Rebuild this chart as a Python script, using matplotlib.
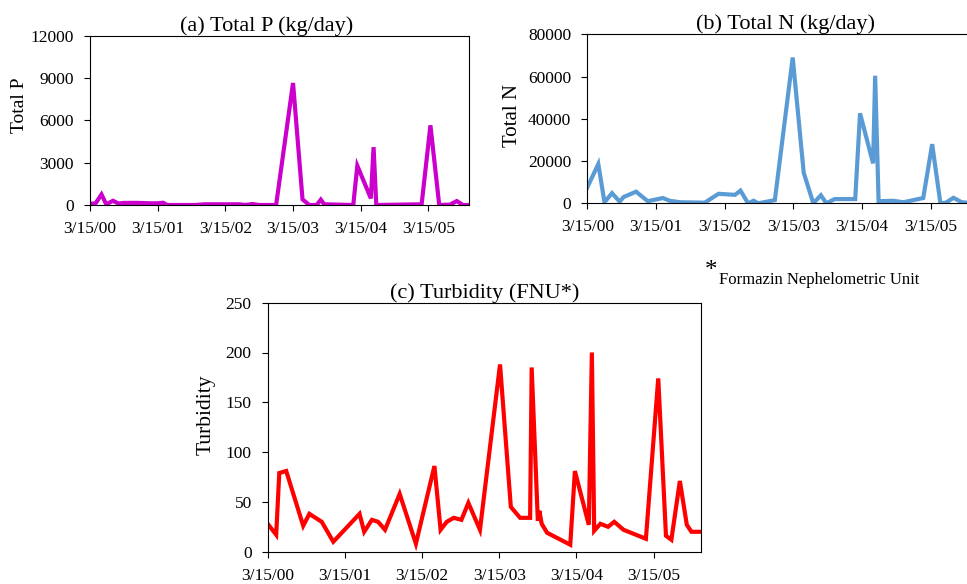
import matplotlib
matplotlib.use("Agg")
import matplotlib.pyplot as plt

plt.rcParams['font.family'] = ['Liberation Serif', 'DejaVu Serif']

# x values: years since 3/15/2000
tick_pos = [0, 1, 2, 3, 4, 5]
tick_labels = ["3/15/00", "3/15/01", "3/15/02", "3/15/03", "3/15/04", "3/15/05"]

p_x = [0, 0.08, 0.17, 0.24, 0.34, 0.42, 0.5, 0.7, 0.9, 1.0, 1.08, 1.14, 1.55, 1.7, 2.2, 2.3, 2.4, 2.5,
       2.75, 3.0, 3.14, 3.24, 3.35, 3.41, 3.46, 3.89, 3.95, 4.15, 4.19, 4.23, 4.9, 5.03, 5.16, 5.32,
       5.42, 5.51, 5.6]
p_y = [100, 100, 750, 50, 300, 100, 150, 150, 120, 120, 160, 0, 0, 50, 50, 0, 70, 0,
       0, 8650, 400, 0, 0, 380, 50, 0, 2780, 470, 4100, 0, 50, 5650, 0, 30,
       280, 0, 0]

n_x = [0, 0.16, 0.25, 0.36, 0.47, 0.53, 0.71, 0.88, 1.10, 1.2, 1.35, 1.71, 1.91, 2.15, 2.23, 2.34,
       2.42, 2.49, 2.73, 2.99, 3.15, 3.29, 3.40, 3.48, 3.6, 3.9, 3.97, 4.16, 4.19, 4.24, 4.45, 4.6,
       4.89, 5.02, 5.14, 5.22, 5.33, 5.45, 5.53]
n_y = [7500, 18600, 500, 4800, 800, 3000, 5500, 1000, 2500, 1200, 500, 300, 4500, 4000, 6000, 0,
       1200, 0, 1500, 69000, 14500, 0, 3800, 0, 2000, 2000, 42600, 18900, 60400, 1000, 1200, 500,
       2500, 28000, 0, 300, 2600, 500, 300]

t_x = [0, 0.11, 0.15, 0.24, 0.46, 0.54, 0.70, 0.85, 1.19, 1.25, 1.35, 1.43, 1.52, 1.71, 1.92, 2.16,
       2.24, 2.32, 2.41, 2.51, 2.60, 2.75, 3.01, 3.15, 3.27, 3.40, 3.42, 3.50, 3.52, 3.55, 3.62, 3.92,
       3.98, 4.16, 4.20, 4.23, 4.31, 4.41, 4.49, 4.61, 4.90, 5.06, 5.16, 5.23, 5.34, 5.43, 5.49, 5.61]
t_y = [28, 17, 79, 81, 26, 38, 30, 10, 38, 20, 32, 30, 22, 58, 8, 86,
       22, 30, 34, 32, 49, 22, 188, 45, 34, 34, 185, 31, 41, 28, 19, 7,
       81, 27, 200, 21, 28, 25, 30, 22, 13, 174, 16, 12, 71, 27, 20, 20]

W, H = 967, 584
fig = plt.figure(figsize=(W / 100, H / 100), dpi=100)


def box(l, r, top, bot):
    return [l / W, 1 - bot / H, (r - l) / W, (bot - top) / H]


def style(ax, xmax, ylim, yticks, ylabel, title, fs_lab, title_x, lab_x, lab_y):
    ax.set_xlim(0, xmax)
    ax.set_ylim(*ylim)
    ax.set_xticks(tick_pos)
    ax.set_xticklabels(tick_labels)
    ax.set_yticks(yticks)
    ax.tick_params(direction='out', length=4, width=0.8, labelsize=12.5, colors='black')
    ax.tick_params(axis='y', pad=7.5)
    ax.tick_params(axis='x', pad=7.5)
    ax.set_ylabel(ylabel, fontsize=fs_lab)
    ax.yaxis.set_label_coords(lab_x, lab_y)
    ax.set_title(title, fontsize=16, pad=3, x=title_x)
    for s in ax.spines.values():
        s.set_linewidth(0.8)
        s.set_color('black')


ax1 = fig.add_axes(box(90, 469, 35.7, 205))
ax1.plot(p_x, p_y, color='#CC00CC', lw=3.0, solid_joinstyle='miter')
style(ax1, 5.6, (0, 12000), [0, 3000, 6000, 9000, 12000], "Total P", "(a) Total P (kg/day)",
      14, 0.466, -62 / 379, 0.59)

ax2 = fig.add_axes(box(587.3, 967, 34.3, 203.3))
ax2.plot(n_x, n_y, color='#5B9BD5', lw=3.0, solid_joinstyle='miter')
style(ax2, 5.527, (0, 80000), [0, 20000, 40000, 60000, 80000], "Total N", "(b) Total N (kg/day)",
      15, 0.522, -65 / 379.7, 0.52)
ax2.spines['right'].set_visible(False)

ax3 = fig.add_axes(box(267.7, 700.7, 302.7, 551.7))
ax3.plot(t_x, t_y, color='#FF0000', lw=3.0, solid_joinstyle='miter')
style(ax3, 5.61, (0, 250), [0, 50, 100, 150, 200, 250], "Turbidity", "(c) Turbidity (FNU*)",
      15.5, 0.5, -52 / 433, 0.55)

fig.text(705 / W, 1 - 277 / H, "*", fontsize=18, ha='left', va='baseline')
fig.text(719 / W, 1 - 284 / H, "Formazin Nephelometric Unit", fontsize=12, ha='left', va='baseline')

fig.savefig("out.png", dpi=100)
